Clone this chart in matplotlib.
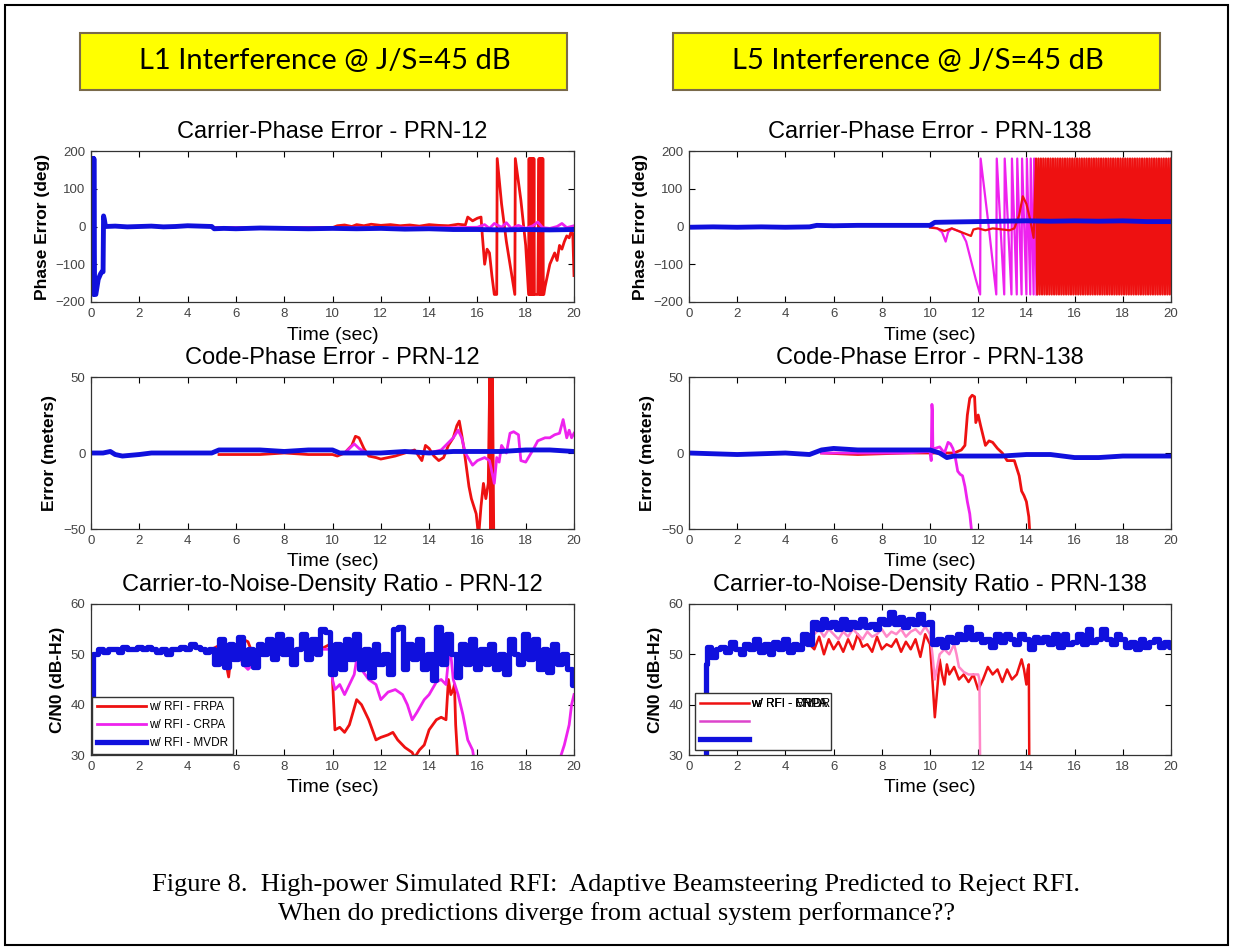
import numpy as np
import matplotlib
matplotlib.use("Agg")
import matplotlib.pyplot as plt
from matplotlib.patches import Rectangle

plt.rcParams['font.family'] = ['Liberation Sans', 'DejaVu Sans']

# ---- L1, PRN-12, carrier phase (deg)
l1_frpa_phase_t = [5.0, 6.0, 7.0, 8.0, 9.0, 10.0, 10.2, 10.5, 10.8, 11.0, 11.3, 11.6, 12.0, 12.4, 12.8,
                   13.2, 13.6, 14.0, 14.4, 14.8, 15.2, 15.5, 15.6, 15.8, 16.0, 16.15, 16.2, 16.3, 16.4,
                   16.5, 16.6, 16.7, 16.8, 16.82, 17.0, 17.2, 17.4, 17.55, 17.57, 17.8, 18.0, 18.12,
                   18.14, 18.16, 18.18, 18.2, 18.22, 18.24, 18.26, 18.28, 18.3, 18.32, 18.34, 18.36,
                   18.5, 18.55, 18.57, 18.59, 18.61, 18.63, 18.65, 18.67, 18.69, 18.71, 18.73, 18.75,
                   18.8, 19.0, 19.2, 19.3, 19.4, 19.5, 19.6, 19.7, 19.8, 19.9, 19.95, 20.0]
l1_frpa_phase = [-3, -4, -3, -4, -3, -3, 2, 4, 0, 5, 2, 6, 3, 5, 2,
                 4, 1, 5, 3, 2, 6, 4, 25, 15, 22, 25, -20, -100, -60,
                 -70, -130, -180, -180, 180, 60, -40, -120, -180, 180, 70, -50, -180,
                 180, -180, 180, -180, 180, -180, 180, -180, 180, -180, 180, -180,
                 -180, 180, -180, 180, -180, 180, -180, 180, -180, 180, -180, -180,
                 -160, -100, -70, -90, -50, -60, -40, -25, -30, -10, -20, -130]
l1_crpa_phase_t = [5.0, 10.0, 15.0, 16.0, 16.3, 16.5, 16.7, 17.0, 17.2, 17.4, 17.7, 18.0, 18.3,
                   18.5, 18.7, 19.0, 19.3, 19.5, 19.7, 20.0]
l1_crpa_phase = [-3, -3, -3, -2, 5, -5, 8, -2, 10, -5, 3, -5, 2, 12, -3, -5, 0, 8, -3, 2]
l1_mvdr_phase_t = [0.0, 0.1, 0.1, 0.12, 0.15, 0.2, 0.3, 0.4, 0.45, 0.5, 0.52, 0.55, 0.6, 1.0, 1.5,
                   2.0, 2.5, 3.0, 3.5, 4.0, 4.5, 5.0, 5.1, 5.5, 6.0, 7.0, 8.0, 9.0, 10.0, 11.0, 12.0,
                   13.0, 14.0, 15.0, 16.0, 17.0, 18.0, 19.0, 20.0]
l1_mvdr_phase = [180, 180, -180, 180, -180, -180, -140, -125, -120, -120, 28, 20, 0, 1, -1,
                 0, 1, -1, 0, 2, 1, 0, -6, -5, -6, -4, -5, -6, -5, -6, -5,
                 -7, -6, -8, -8, -9, -8, -9, -8]

# ---- L5, PRN-138, carrier phase (deg)
l5_frpa_phase_t = [10.0, 10.3, 10.6, 10.9, 11.1, 11.3, 11.5, 11.7, 11.8, 12.0, 12.3, 12.6, 13.0,
                   13.3, 13.5, 13.7, 13.85, 14.0, 14.15, 14.3]
l5_frpa_phase = [-3, -5, -12, -5, -10, -15, -20, -25, -8, -5, -10, -5, -8,
                 -10, -5, 30, 80, 60, 20, -30]
# phase wrapping from 14.4 s on, one reading every 0.05 s
l5_frpa_wrap = [180, -180, 180, -180, 180, -180, 180, -180, 180, -180, 180, -180, 180, -180,
                180, -180, 180, -180, 180, -180, 180, -180, 180, -180, 180, -180, 180, -180,
                180, -180, 180, -180, 180, -180, 180, -180, 180, -180, 180, -180, 180, -180,
                180, -180, 180, -180, 180, -180, 180, -180, 180, -180, 180, -180, 180, -180,
                180, -180, 180, -180, 180, -180, 180, -180, 180, -180, 180, -180, 180, -180,
                180, -180, 180, -180, 180, -180, 180, -180, 180, -180, 180, -180, 180, -180,
                180, -180, 180, -180, 180, -180, 180, -180, 180, -180, 180, -180, 180, -180,
                180, -180, 180, -180, 180, -180, 180, -180, 180, -180, 180, -180, 180, -180, 180]
l5_crpa_phase_t = [10.0, 10.3, 10.5, 10.65, 10.75, 10.9, 11.1, 11.3, 11.5, 11.7, 11.9, 12.08,
                   12.1, 12.4, 12.75, 12.77, 13.08, 13.1, 13.38, 13.4, 13.6, 13.62, 13.8, 13.82,
                   14.0, 14.02, 14.16, 14.18, 14.3, 14.32, 14.42]
l5_crpa_phase = [0, -5, -15, -40, -15, -5, -10, -15, -40, -90, -140, -180,
                 180, 20, -180, 180, -180, 180, -180, 180, -180, 180, -180, 180,
                 -180, 180, -180, 180, -180, 180, -180]
l5_mvdr_phase_t = [0.0, 1.0, 2.0, 3.0, 4.0, 5.0, 5.3, 6.0, 7.0, 8.0, 9.0, 10.0, 10.2, 11.0, 12.0,
                   13.0, 14.0, 15.0, 16.0, 17.0, 18.0, 19.0, 20.0]
l5_mvdr_phase = [-2, -1, -2, -1, -2, -1, 3, 2, 3, 3, 3, 3, 11, 12, 13,
                 14, 15, 14, 15, 14, 15, 13, 13]

# ---- code phase (meters)
l1_frpa_code_t = [5.3, 6.0, 7.0, 8.0, 9.0, 10.0, 10.2, 10.5, 10.8, 10.95, 11.1, 11.3, 11.5, 11.8,
                  12.0, 12.3, 12.6, 13.0, 13.4, 13.7, 13.85, 14.0, 14.2, 14.4, 14.6, 14.8, 15.0,
                  15.15, 15.25, 15.35, 15.45, 15.55, 15.65, 15.75, 15.85, 15.95, 16.05, 16.15,
                  16.25, 16.35, 16.45, 16.52, 16.54, 16.6, 16.62, 16.68]
l1_frpa_code = [-1, -1, -1, 0, -1, -1, -2, 0, 5, 11, 10, 3, -2, -3,
                -4, -3, -2, 0, 2, -5, 5, 3, -2, -5, -3, 5, 10,
                18, 21, 12, 2, -10, -22, -30, -35, -40, -55, -35,
                -20, -30, -20, 60, -60, -60, 60, -60]
l1_crpa_code_t = [10.5, 10.9, 11.1, 11.4, 12.0, 13.0, 14.0, 14.5, 15.0, 15.2, 15.35, 15.5, 15.8,
                  16.0, 16.3, 16.5, 16.7, 16.8, 16.9, 17.0, 17.2, 17.35, 17.5, 17.7, 17.8, 18.0,
                  18.3, 18.5, 18.8, 19.0, 19.2, 19.4, 19.55, 19.7, 19.8, 19.9, 20.0]
l1_crpa_code = [0, 6, 3, 0, 0, 1, 0, 2, 10, 15, 10, 0, -8,
                -5, -3, -5, -20, -3, -6, 5, 0, 13, 14, 12, -5, -6,
                2, 8, 10, 10, 12, 13, 22, 10, 15, 10, 13]
l1_mvdr_code_t = [0.0, 0.5, 0.8, 1.0, 1.3, 2.0, 2.5, 3.0, 4.0, 5.0, 5.3, 6.0, 7.0, 8.0, 9.0, 10.0,
                  10.3, 11.0, 12.0, 13.0, 14.0, 15.0, 16.0, 17.0, 18.0, 19.0, 20.0]
l1_mvdr_code = [0, 0, 1, -1, -2, -1, 0, 0, 0, 0, 2, 2, 2, 1, 2, 2,
                0, 0, 0, 1, 0, 1, 1, 1, 2, 2, 1]

l5_frpa_code_t = [5.5, 7.0, 9.0, 10.0, 11.0, 11.3, 11.45, 11.55, 11.65, 11.75, 11.85, 11.9, 12.0,
                  12.1, 12.3, 12.45, 12.6, 12.8, 13.0, 13.2, 13.5, 13.6, 13.7, 13.8, 13.9, 14.0,
                  14.1, 14.15]
l5_frpa_code = [0, -1, 0, 0, 0, 2, 5, 25, 36, 38, 37, 20, 25,
                18, 5, 8, 7, 3, 0, -5, -5, -10, -15, -25, -28, -32,
                -42, -55]
l5_crpa_code_t = [5.5, 6.0, 7.0, 8.0, 9.0, 10.0, 10.05, 10.08, 10.1, 10.12, 10.2, 10.4, 10.6, 10.75,
                  10.85, 10.95, 11.05, 11.15, 11.25, 11.35, 11.45, 11.55, 11.65, 11.75]
l5_crpa_code = [0, 0, 0, 0, 0, 1, -5, 32, 28, 2, 3, 4, 0, 7,
                6, 3, -3, -12, -14, -15, -22, -32, -40, -55]
l5_mvdr_code_t = [0.0, 2.0, 4.0, 5.0, 5.5, 6.0, 7.0, 8.0, 9.0, 10.0, 10.4, 10.7, 11.0, 12.0, 13.0,
                  14.0, 15.0, 16.0, 17.0, 18.0, 19.0, 20.0]
l5_mvdr_code = [0, -1, 0, -1, 2, 3, 2, 2, 2, 2, 0, -3, -2, -2, -2,
                -1, -1, -3, -3, -2, -2, -2]

# ---- C/N0 (dB-Hz); noisy traces read every 0.2 s
l1_mvdr_cn0 = [38, 50, 51, 50.5, 51, 51, 50.5, 51.5, 51, 51, 51.5, 51, 51.5, 51, 50.5, 51, 50,
               51, 51, 51.5, 51, 52, 51.5, 51, 50.5, 51, 48, 53, 47.5, 52, 49, 53.5, 48, 51,
               47.5, 52, 50, 53, 49, 54, 50, 53, 48, 51, 54, 49, 53, 50, 55, 54.5, 46, 52, 47,
               53, 49, 54, 47, 51, 45.5, 52, 48, 50, 46, 55, 55.5, 47, 52, 49, 53, 47, 50, 45,
               55.5, 48, 54, 50, 45.5, 52, 48, 53, 47, 51, 48, 52, 47, 50, 46, 53, 50, 48, 54,
               49, 53, 47, 51, 46.5, 52, 48, 50, 47, 44]
l1_frpa_cn0_t = [5.0, 5.4, 5.6, 5.7, 5.8, 6.0, 6.3, 6.5, 6.7, 7.0, 7.5, 8.0, 8.5, 9.0, 9.5, 9.9,
                 10.0, 10.1, 10.3, 10.5, 10.7, 11.0, 11.2, 11.5, 11.8, 12.0, 12.3, 12.5, 12.7,
                 13.0, 13.3, 13.4, 13.6, 13.8, 14.0, 14.3, 14.5, 14.7, 14.8, 14.9, 15.0, 15.05,
                 15.1, 15.2]
l1_frpa_cn0 = [51, 52, 48, 45.5, 50, 51, 53, 52.5, 50, 51, 51, 50, 51, 52, 51, 52,
               45, 35, 35.5, 34.5, 36, 41, 40, 37, 33, 33.5, 34, 34.5, 33,
               31.5, 30.5, 29.5, 31, 32, 35, 37, 37.5, 37, 45, 42, 43, 44,
               36, 28]
l1_crpa_cn0_t = [5.0, 6.0, 6.3, 6.5, 6.7, 7.0, 8.0, 9.0, 9.9, 10.0, 10.1, 10.3, 10.5, 10.7, 10.9,
                 11.0, 11.2, 11.5, 11.8, 12.0, 12.3, 12.6, 12.9, 13.1, 13.3, 13.5, 13.8, 14.0,
                 14.3, 14.5, 14.7, 14.8, 14.9, 15.0, 15.2, 15.4, 15.6, 15.8, 15.9, 17.0,
                 19.4, 19.6, 19.8, 19.9, 20.0]
l1_crpa_cn0 = [51, 51, 48, 47, 48, 51, 51, 51, 51, 45, 43, 44, 42, 44, 46,
               49, 47, 45, 44, 41, 42.5, 43, 42, 40, 37, 38.5, 41, 42,
               44.5, 45, 44, 49, 50, 45, 42, 38, 33, 31, 28, np.nan,
               29, 32, 36, 40, 42]

l5_mvdr_cn0_head_t = [0.7, 0.72]
l5_mvdr_cn0_head = [28, 48]
l5_mvdr_cn0 = [51.5, 49.5, 51, 51.5, 50.5, 52.5, 51, 50, 52, 51, 53, 50.5, 52, 50, 52.5, 51, 53,
               50.5, 52, 51, 54, 52, 56.5, 55, 57, 55.5, 56.5, 55, 57, 55, 56.5, 55.5, 57, 55.5,
               56, 55, 57, 56, 58.5, 56, 57.5, 55.5, 57, 56, 58, 56, 56.5, 52, 53, 51.5, 53.5,
               52.5, 54, 53, 55.5, 53, 54, 52.5, 53, 51.5, 54, 52.5, 54, 53, 52, 54, 53, 51,
               53.5, 52.5, 53.5, 52, 54, 51.5, 54, 52, 52.5, 54, 52, 55, 52.5, 53, 55, 53, 52,
               54, 53, 51.5, 52.5, 51, 53, 51.5, 52.5, 53, 51.5, 52.5, 51.5]
l5_frpa_cn0 = [52, 51, 53.5, 50, 53, 51, 52.5, 50.5, 53, 51, 54, 51.5, 52, 50.5, 53.5, 51, 52,
               51.5, 53, 50.5, 52.5, 51, 53, 49.5, 54, 52]
l5_frpa_cn0_tail_t = [10.1, 10.2, 10.3, 10.4, 10.5, 10.6, 10.7, 10.8, 11.0, 11.2, 11.4, 11.6, 11.8,
                      12.0, 12.2, 12.4, 12.6, 12.8, 13.0, 13.2, 13.4, 13.6, 13.8, 13.9, 14.0,
                      14.05, 14.1, 14.12]
l5_frpa_cn0_tail = [45, 37.5, 43, 49, 46, 44, 48, 46, 47.5, 45, 46, 44.5, 46,
                    43, 45, 47.5, 46, 47, 44.5, 47, 45, 46, 49, 47, 44,
                    47, 48, 28]
l5_crpa_cn0 = [54, 55, 53.5, 55, 54, 53, 54.5, 53.5, 55, 54, 53, 54.5, 53.5, 54, 55, 53.5, 54.5,
               54, 55, 53.5, 54.5, 55, 54, 55.5, 54]
l5_crpa_cn0_tail_t = [10.1, 10.2, 10.4, 10.6, 10.8, 11.0, 11.1, 11.2, 11.4, 11.6, 11.8, 12.0,
                      12.05, 12.08]
l5_crpa_cn0_tail = [50, 45, 50, 51, 50, 52, 50, 47.5, 46.5, 46, 46, 46, 45, 28]

labels = ['w/ RFI - FRPA', 'w/ RFI - CRPA', 'w/ RFI - MVDR']
red = '#ee1111'
mag = '#ee22ee'
pink = '#ff88c8'
blue = '#1010dd'

W, H = 1233, 948
fig = plt.figure(figsize=(W / 100, H / 100), dpi=100)


def px_axes(x0, y0, x1, y1):
    return fig.add_axes([x0 / W, 1 - y1 / H, (x1 - x0) / W, (y1 - y0) / H])


def style(ax, title, ylabel, ylim, yticks):
    ax.set_xlim(0, 20)
    ax.set_ylim(*ylim)
    ax.set_xticks(range(0, 21, 2))
    ax.set_yticks(yticks)
    ax.tick_params(direction='in', length=4, width=0.8, top=True, right=True,
                   labelsize=9.5, labelcolor='#444444', pad=4)
    for s in ax.spines.values():
        s.set_linewidth(0.9)
        s.set_color('#333333')
    ax.set_title(title, fontsize=17, pad=9.5)
    ax.set_xlabel('Time (sec)', fontsize=14, labelpad=5)
    ax.set_ylabel(ylabel, fontsize=12.5, fontweight='bold', labelpad=4)


cols = [(91, 574), (689, 1171)]
rows = [(151, 302), (377, 529), (604, 755)]
axs = [[px_axes(c[0], r[0], c[1], r[1]) for c in cols] for r in rows]

# row 1 carrier phase
ax = axs[0][0]
ax.plot(l1_frpa_phase_t, l1_frpa_phase, color=red, lw=2)
ax.plot(l1_crpa_phase_t, l1_crpa_phase, color=mag, lw=2)
ax.plot(l1_mvdr_phase_t, l1_mvdr_phase, color=blue, lw=3.5)
style(ax, 'Carrier-Phase Error - PRN-12', 'Phase Error (deg)', (-200, 200), [-200, -100, 0, 100, 200])

ax = axs[0][1]
ax.plot(l5_crpa_phase_t, l5_crpa_phase, color=mag, lw=1.6)
wrap_t = 14.4 + 0.05 * np.arange(len(l5_frpa_wrap))
ax.plot(list(l5_frpa_phase_t) + list(wrap_t), l5_frpa_phase + l5_frpa_wrap, color=red, lw=1.6)
ax.plot(l5_mvdr_phase_t, l5_mvdr_phase, color=blue, lw=3.5)
style(ax, 'Carrier-Phase Error - PRN-138', 'Phase Error (deg)', (-200, 200), [-200, -100, 0, 100, 200])

# row 2 code phase
ax = axs[1][0]
ax.plot(l1_frpa_code_t, l1_frpa_code, color=red, lw=2)
ax.plot(l1_crpa_code_t, l1_crpa_code, color=mag, lw=2)
ax.plot(l1_mvdr_code_t, l1_mvdr_code, color=blue, lw=3.5)
style(ax, 'Code-Phase Error - PRN-12', 'Error (meters)', (-50, 50), [-50, 0, 50])

ax = axs[1][1]
ax.plot(l5_frpa_code_t, l5_frpa_code, color=red, lw=2)
ax.plot(l5_crpa_code_t, l5_crpa_code, color=mag, lw=2)
ax.plot(l5_mvdr_code_t, l5_mvdr_code, color=blue, lw=3.5)
style(ax, 'Code-Phase Error - PRN-138', 'Error (meters)', (-50, 50), [-50, 0, 50])

# row 3 C/N0
ax = axs[2][0]
ax.plot(l1_frpa_cn0_t, l1_frpa_cn0, color=red, lw=2, label=labels[0])
ax.plot(l1_crpa_cn0_t, l1_crpa_cn0, color=mag, lw=2, label=labels[1])
ax.plot(0.2 * np.arange(len(l1_mvdr_cn0)), l1_mvdr_cn0, color=blue, lw=3.8, label=labels[2],
        drawstyle='steps-mid')
style(ax, 'Carrier-to-Noise-Density Ratio - PRN-12', 'C/N0 (dB-Hz)', (30, 60), [30, 40, 50, 60])
ax.legend(loc='lower left', fontsize=8.5, frameon=True, fancybox=False, edgecolor='#333333',
          framealpha=1, handlelength=4.2, borderaxespad=0.1, labelspacing=0.5, handletextpad=0.2)

ax = axs[2][1]
rt = list(5.0 + 0.2 * np.arange(len(l5_frpa_cn0))) + l5_frpa_cn0_tail_t
ax.plot(rt, l5_frpa_cn0 + l5_frpa_cn0_tail, color=red, lw=1.8)
pt = list(5.2 + 0.2 * np.arange(len(l5_crpa_cn0))) + l5_crpa_cn0_tail_t
ax.plot(pt, l5_crpa_cn0 + l5_crpa_cn0_tail, color=pink, lw=1.8)
bt = l5_mvdr_cn0_head_t + list(0.8 + 0.2 * np.arange(len(l5_mvdr_cn0)))
ax.plot(bt, l5_mvdr_cn0_head + l5_mvdr_cn0, color=blue, lw=3.8, drawstyle='steps-mid')
style(ax, 'Carrier-to-Noise-Density Ratio - PRN-138', 'C/N0 (dB-Hz)', (30, 60), [30, 40, 50, 60])
hs = ax.get_lines()
leg = ax.legend(hs, [labels[0], ' ', ' '], loc='lower left', fontsize=8.5, frameon=True,
                fancybox=False, edgecolor='#333333', framealpha=1, handlelength=4.2,
                bbox_to_anchor=(0.012, 0.03), borderaxespad=0, labelspacing=0.5,
                handletextpad=0.2)
leg.legend_handles[1].set_color('#dd44cc')
fig.canvas.draw()
bb = leg.get_texts()[0].get_window_extent()
for lab in labels[1:]:
    fig.text(bb.x0 / W, bb.y0 / H, lab, fontsize=8.5, ha='left', va='bottom')

# yellow header boxes
for x0, txt in [(80, 'L1 Interference @ J/S=45 dB'), (673, 'L5 Interference @ J/S=45 dB')]:
    fig.patches.append(Rectangle((x0 / W, 1 - 90 / H), 487 / W, 57 / H, transform=fig.transFigure,
                                 facecolor='#ffff00', edgecolor='#7a6a4a', lw=1.5))
    fig.text((x0 + 245) / W, 1 - 61 / H, txt, fontsize=21, family=['Lato', 'DejaVu Sans'],
             ha='center', va='center')

serif = ['Liberation Serif', 'DejaVu Serif']
fig.text(0.5, 1 - 885 / H, 'Figure 8.  High-power Simulated RFI:  Adaptive Beamsteering Predicted to Reject RFI.',
         fontsize=19, family=serif, ha='center', va='center')
fig.text(0.5, 1 - 914 / H, 'When do predictions diverge from actual system performance??',
         fontsize=19, family=serif, ha='center', va='center')

fig.patches.append(Rectangle((5 / W, 1 - 945 / H), 1223 / W, 940 / H, transform=fig.transFigure,
                             facecolor='none', edgecolor='black', lw=1.5))

fig.savefig('out.png', dpi=100)
